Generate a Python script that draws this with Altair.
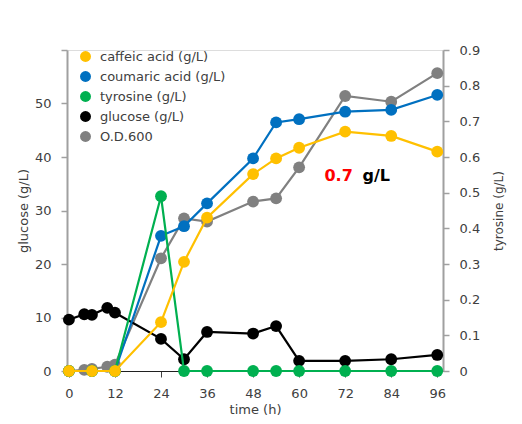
import altair as alt
import pandas as pd

# ---- data ----
series_names = ["caffeic acid (g/L)", "coumaric acid (g/L)", "tyrosine (g/L)", "glucose (g/L)", "O.D.600"]
series_colors = ["#FFC000", "#0070C0", "#00B050", "#000000", "#808080"]

t_glc = [0, 4, 6, 10, 12, 24, 30, 36, 48, 54, 60, 72, 84, 96]
glucose = [9.6, 10.6, 10.5, 11.8, 10.9, 6.0, 2.2, 7.3, 7.0, 8.4, 1.9, 1.9, 2.2, 3.0]

t_od = [0, 4, 6, 10, 12, 24, 30, 36, 48, 54, 60, 72, 84, 96]
od600 = [0.0, 0.003, 0.006, 0.012, 0.018, 0.316, 0.428, 0.419, 0.475, 0.484, 0.571, 0.771, 0.755, 0.835]

t_prod = [0, 6, 12, 24, 30, 36, 48, 54, 60, 72, 84, 96]
caffeic = [0, 0, 0, 0.137, 0.306, 0.43, 0.552, 0.596, 0.626, 0.671, 0.659, 0.615]
coumaric = [0, 0, 0, 0.379, 0.406, 0.47, 0.596, 0.697, 0.706, 0.727, 0.732, 0.774]
tyrosine = [0, 0, 0, 0.49, 0, 0, 0, 0, 0, 0, 0, 0]

x_ticks = [0, 12, 24, 36, 48, 60, 72, 84, 96]
left_ticks = [0, 10, 20, 30, 40, 50, 60]
right_ticks = [0, 0.1, 0.2, 0.3, 0.4, 0.5, 0.6, 0.7, 0.8, 0.9]

annot_text = ["0.7", "g/L"]
annot_t = [66.6, 76.5]
annot_v = [0.548, 0.548]
annot_color = ["#FF0000", "#000000"]

FONT = "DejaVu Sans"
TXT = "#404040"

color_scale = alt.Scale(domain=series_names, range=series_colors)
x_scale = alt.Scale(domain=[-0.5, 97.5], nice=False, zero=False)
right_scale = alt.Scale(domain=[0, 0.9], nice=False)
left_scale = alt.Scale(domain=[0, 60], nice=False)

x_enc = alt.X("t:Q", scale=x_scale,
              axis=alt.Axis(values=x_ticks, title="time (h)", grid=False,
                            domainColor="#202020", tickColor="#404040", tickSize=6,
                            labelPadding=10, titlePadding=3, labelFontSize=13,
                            titleFontSize=13, labelColor=TXT, titleColor=TXT,
                            titleFontWeight="normal", labelFont=FONT, titleFont=FONT))

right_axis = alt.Axis(orient="right", values=right_ticks, title="tyrosine (g/L)", grid=False,
                      labelExpr="datum.value == 0 ? '0' : format(datum.value, '.1f')",
                      domainColor="#A0A0A0", domainWidth=2, tickColor="#A0A0A0",
                      tickSize=6, tickWidth=1.5, labelPadding=10, titlePadding=26,
                      titleAngle=270, labelFontSize=13, titleFontSize=12,
                      labelColor=TXT, titleColor=TXT, titleFontWeight="normal",
                      labelFont=FONT, titleFont=FONT)

left_axis = alt.Axis(orient="left", values=left_ticks, title="glucose (g/L)", grid=False,
                     labelExpr="datum.value == 60 ? '' : datum.label",
                     domainColor="#A0A0A0", domainWidth=2, tickColor="#A0A0A0",
                     tickSize=6, tickWidth=1.5, labelPadding=10, titlePadding=4,
                     labelFontSize=13, titleFontSize=13, labelColor=TXT,
                     titleColor=TXT, titleFontWeight="normal", labelFont=FONT, titleFont=FONT)


def series_layer(name, times, values, axis, scale):
    df = pd.DataFrame({"t": times, "v": values, "series": name})
    col = series_colors[series_names.index(name)]
    base = alt.Chart(df)
    line = base.mark_line(strokeWidth=2.2, color=col).encode(
        x=x_enc, y=alt.Y("v:Q", scale=scale, axis=axis))
    pts = base.mark_circle(size=140, opacity=1).encode(
        x=x_enc, y=alt.Y("v:Q", scale=scale, axis=axis),
        color=alt.Color("series:N", scale=color_scale,
                        legend=alt.Legend(title=None, orient="none", legendX=12, legendY=0,
                                          labelFontSize=13, labelColor=TXT, labelFont=FONT,
                                          symbolType="circle", symbolSize=120,
                                          symbolStrokeWidth=0, rowPadding=6,
                                          labelOffset=8, padding=0)))
    return alt.layer(line, pts)


od_layer = series_layer("O.D.600", t_od, od600, None, right_scale)
glc_layer = series_layer("glucose (g/L)", t_glc, glucose, left_axis, left_scale)
cou_layer = series_layer("coumaric acid (g/L)", t_prod, coumaric, right_axis, right_scale)
tyr_layer = series_layer("tyrosine (g/L)", t_prod, tyrosine, None, right_scale)
caf_layer = series_layer("caffeic acid (g/L)", t_prod, caffeic, None, right_scale)

annot_df = pd.DataFrame({"t": annot_t, "v": annot_v, "txt": annot_text, "c": annot_color})
annot = alt.Chart(annot_df).mark_text(align="left", baseline="middle", fontSize=16,
                                      fontWeight="bold", font=FONT).encode(
    x=x_enc,
    y=alt.Y("v:Q", scale=right_scale, axis=None),
    text="txt:N",
    color=alt.Color("c:N", scale=None))

chart = alt.layer(od_layer, glc_layer, cou_layer, tyr_layer, caf_layer, annot).resolve_scale(
    y="independent"
).properties(
    width=376, height=321,
    padding={"left": 59, "top": 42, "right": 71, "bottom": 45},
    autosize=alt.AutoSizeParams(type="none"),
    background="white"
).configure_view(stroke=None).configure(font=FONT)

chart.save("out.html", embed_options={"renderer": "svg", "actions": False})
